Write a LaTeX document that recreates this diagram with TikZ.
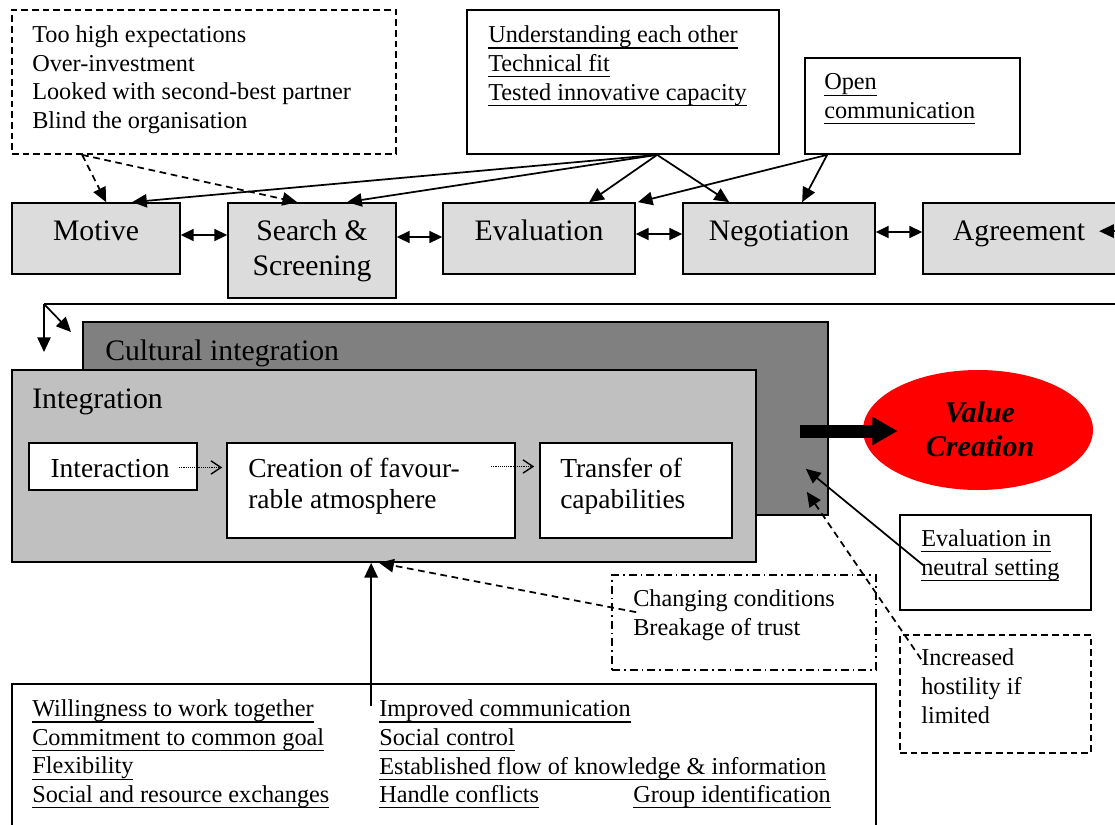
\documentclass[tikz,border=0pt]{standalone}
\usepackage{fontspec}
\setmainfont{Liberation Serif}
\usetikzlibrary{arrows.meta,fit,calc,shapes.geometric}
\definecolor{procgray}{HTML}{DCDCDC}
\definecolor{cultgray}{HTML}{808080}
\definecolor{integgray}{HTML}{C0C0C0}
% underline at a fixed depth below the baseline
\newcommand\uln[1]{\setbox0=\hbox{#1}\rlap{\rule[-4.4pt]{\wd0}{1pt}}\box0}
\begin{document}
\begin{tikzpicture}[x=0.75pt,y=-0.75pt,
  box/.style={draw, line width=1.3pt, inner sep=0pt},
  procbox/.style={box, fill=procgray},
  dashbox/.style={box, dash pattern=on 5pt off 3pt},
  dotdashbox/.style={box, dash pattern=on 6pt off 3pt on 1.2pt off 3pt},
  small/.style={font=\fontsize{18.2}{21.4}\selectfont, inner sep=0pt, anchor=base west, align=left},
  big/.style={font=\fontsize{22.3}{26.25}\selectfont, inner sep=0pt, anchor=base, align=center},
  mid/.style={font=\fontsize{20.6}{23.25}\selectfont, inner sep=0pt, anchor=base west, align=left},
  arr/.style={line width=1.3pt, -{Triangle[length=11pt,width=10pt]}},
  darr/.style={arr, dash pattern=on 5pt off 3.5pt},
  dbl/.style={line width=1.3pt, {Triangle[length=9.5pt,width=9pt]}-{Triangle[length=9.5pt,width=9pt]}},
  dotarr/.style={line width=0.9pt, dash pattern=on 0.7pt off 0.7pt, -{Straight Barb[length=7.5pt,width=10pt,line width=1pt]}},
  fatarr/.style={line width=9.75pt, -{Triangle[length=19pt,width=20pt]}},
]
\clip (0,0) rectangle (1115,825);

% --- boxes of the selection phase ---
\node[dashbox, fit={(12,10)(396,154)}] (risks) {};
\node[box, fit={(467,10)(779,154)}] (underst) {};
\node[box, fit={(805,58)(1020,154)}] (opencom) {};
\node[procbox, fit={(12,203)(180,274)}] (motive) {};
\node[procbox, fit={(228,203)(396,298)}] (search) {};
\node[procbox, fit={(443,203)(635,274)}] (evalu) {};
\node[procbox, fit={(683,203)(875,274)}] (nego) {};
\node[procbox, fit={(923,203)(1140,274)}] (agree) {};

% --- integration block ---
\node[box, fill=cultgray, fit={(83,322)(828,515)}] (cult) {};
\node[box, fill=integgray, fit={(12,370)(756,562)}] (integ) {};
\node[box, fill=white, fit={(29,443)(197,490)}] (inter) {};
\node[box, fill=white, fit={(227,443)(515,538)}] (creat) {};
\node[box, fill=white, fit={(540,443)(732,538)}] (trans) {};
\node[ellipse, fill=red, minimum width=172.5pt, minimum height=90pt, inner sep=0pt] (value) at (978,430) {};

% --- influencing factors ---
\node[box, fit={(900,515)(1091,610)}] (evaln) {};
\node[dotdashbox, fit={(612,575)(876,670)}] (chg) {};
\node[dashbox, fit={(900,635)(1091,753)}] (hostile) {};
\node[box, fit={(12,684)(876,845)}] (coll) {};

% --- texts (multi-line nodes are placed by the baseline of their last line) ---
\node[small] (risksT) at (32,128.5) {Too high expectations\\Over-investment\\Looked with second-best partner\\Blind the organisation};
\node[small] (understT) at (488,100) {\uln{Understanding each other}\\\uln{Technical fit}\\\uln{Tested innovative capacity}};
\node[small] (openT) at (824,118.5) {\uln{Open}\\\uln{communication}};
\node[big] (motiveT) at (96,240) {Motive};
\node[big] (searchT) at (312,275) {Search \&\\Screening};
\node[big] (evaluT) at (539,240) {Evaluation};
\node[big] (negoT) at (779,240) {Negotiation};
\node[big] (agreeT) at (1019,240) {Agreement};
\node[big, anchor=base west] (cultT) at (105,360) {Cultural integration};
\node[big, anchor=base west] (integT) at (32,408) {Integration};
\node[mid, anchor=base] (interT) at (110,477) {Interaction};
\node[mid] (creatT) at (248,508) {Creation of favour-\\rable atmosphere};
\node[mid] (transT) at (560,508) {Transfer of\\capabilities};
\node[big, font=\fontsize{22.5}{25.5}\selectfont\bfseries\itshape] (valueT) at (980,456) {Value\\Creation};
\node[small] (evalnT) at (921,575) {\uln{Evaluation in}\\\uln{neutral setting}};
\node[small] (chgT) at (633,635.5) {Changing conditions\\Breakage of trust};
\node[small] (hostileT) at (921,723) {Increased\\hostility if\\limited};
\node[small] (collL) at (32,802.5) {\uln{Willingness to work together}\\\uln{Commitment to common goal}\\\uln{Flexibility}\\\uln{Social and resource exchanges}};
\node[small] (collR) at (379,774) {\uln{Improved communication}\\\uln{Social control}\\\uln{Established flow of knowledge \& information}};
\node[small] (collH) at (379,802.5) {\uln{Handle conflicts}};
\node[small, anchor=base east] (collG) at (831,802.5) {\uln{Group identification}};

% --- connectors above the process ---
\draw[darr] ($(risks.south west)+(71,0)$) -- ($(motive.north west)+(95,0)$);
\draw[darr] ($(risks.south west)+(71,0)$) -- ($(search.north west)+(70,0)$);
\draw[arr] ($(underst.south west)+(191,0)$) -- ($(motive.north west)+(121,0)$);
\draw[arr] ($(underst.south west)+(191,0)$) -- ($(search.north west)+(120,0)$);
\draw[arr] ($(underst.south west)+(191,0)$) -- ($(evalu.north west)+(147,0)$);
\draw[arr] ($(underst.south west)+(191,0)$) -- ($(nego.north west)+(47,0)$);
\draw[arr] ($(opencom.south west)+(23,0)$) -- ($(evalu.north east)+(2,0)$);
\draw[arr] ($(opencom.south west)+(23,0)$) -- ($(nego.north west)+(120,0)$);

% --- process sequence ---
\draw[dbl] (motive.east |- 0,235) -- (search.west |- 0,235);
\draw[dbl] (search.east |- 0,237) -- (evalu.west |- 0,237);
\draw[dbl] (evalu.east |- 0,234) -- (nego.west |- 0,234);
\draw[dbl] (nego.east |- 0,232) -- (agree.west |- 0,232);
\draw[arr] ($(agree.north west)+(220,29)$) -- ($(agree.north west)+(177,29)$);

% --- return line into integration ---
\coordinate (retL) at (44,304);
\coordinate (retR) at (1140,304);
\coordinate (retDown) at (44,352);
\coordinate (retDiag) at (71,332);
\draw[line width=1.3pt] (retR) -- (retL);
\draw[arr] (retL) -- (retDown);
\draw[arr] (retL) -- (retDiag);

% --- integration flow ---
\draw[dotarr] ($(inter.east)+(-19,1)$) -- ($(creat.west |- inter.east)+(-4,1)$);
\draw[dotarr] ($(creat.east |- inter.east)+(-25,0)$) -- ($(trans.west |- inter.east)+(-5,0)$);
\draw[fatarr] ($(cult.east |- value.center)+(-29,1)$) -- ($(value.west)+(35,1)$);

% --- factors acting on integration ---
\draw[arr] ($(evaln.north west)+(24,51)$) -- ($(cult.south east)+(-23,-47)$);
\draw[darr] ($(hostile.north west)+(22,25)$) -- ($(cult.south east)+(-22,-24)$);
\draw[darr] ($(chg.north west)+(25,38)$) -- ($(integ.south west)+(368,0)$);
\draw[arr] ($(coll.north west)+(360,23)$) -- ($(integ.south west)+(360,0)$);
\end{tikzpicture}
\end{document}
